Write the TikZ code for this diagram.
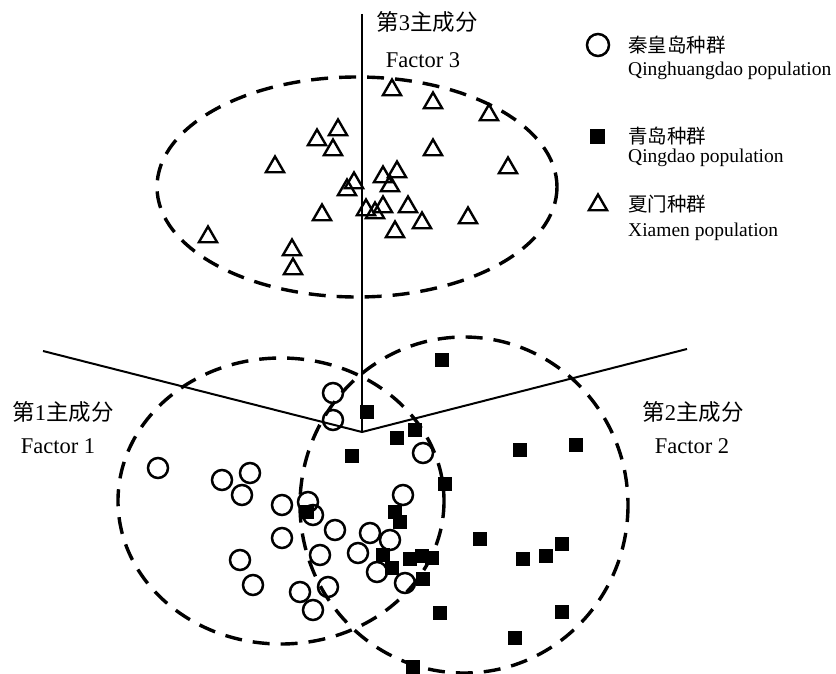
\documentclass[tikz,border=0pt]{standalone}
\usepackage{fontspec}
\setmainfont{Liberation Serif}
\newfontfamily\cjk{Noto Sans CJK SC}
\usepackage{tikz}
\usetikzlibrary{shapes.geometric}

\begin{document}
\begin{tikzpicture}[x=1pt, y=-1pt,
  axis/.style={line width=2pt},
  group/.style={line width=3.4pt, dash pattern=on 17pt off 11pt},
  qhd/.style={circle, draw, line width=2.5pt, minimum size=20pt, inner sep=0pt},
  qd/.style={rectangle, fill, minimum size=14pt, inner sep=0pt},
  xm/.style={regular polygon, regular polygon sides=3, draw, line width=2.4pt,
    minimum size=21pt, inner sep=0pt},
  axlabel/.style={font=\fontsize{22.5}{26}\selectfont, align=center},
  legtext/.style={font=\fontsize{19.5}{22}\selectfont, anchor=west, inner sep=0pt}]

\useasboundingbox (0,0) rectangle (836,674);

% axes
\coordinate (O) at (362,432);
\coordinate (f1) at (43,351);
\coordinate (f2) at (687,349);
\coordinate (f3) at (362,14);
\draw[axis] (f3) -- (O);
\draw[axis] (f1) -- (O) -- (f2);

\node[axlabel] (l3a) at (427,22) {{\cjk 第}3{\cjk 主成分}};
\node[axlabel] (l3b) at (423,60) {Factor 3};
\node[axlabel] (l1a) at (63,412) {{\cjk 第}1{\cjk 主成分}};
\node[axlabel] (l1b) at (58,446) {Factor 1};
\node[axlabel] (l2a) at (693,412) {{\cjk 第}2{\cjk 主成分}};
\node[axlabel] (l2b) at (692,446) {Factor 2};

% groups
\draw[group] (357,187) ellipse [x radius=200, y radius=110];
\draw[group] (281,501) ellipse [x radius=163, y radius=143];
\draw[group] (464,505) ellipse [x radius=164, y radius=168];

% Xiamen
\foreach \p [count=\i] in {(392,90),(433,103),(489,115),(338,130),(317,140),
  (333,150),(433,150),(275,167),(508,168),(383,177),(397,172),(390,186),
  (354,183),(347,190),(322,215),(366,210),(375,213),(383,207),(408,207),
  (422,223),(468,218),(395,232),(208,237),(292,250),(293,269)}
  \node[xm] (t\i) at \p {};

% Qinhuangdao
\foreach \p [count=\i] in {(333,393),(333,420),(423,453),(158,468),(222,480),
  (250,473),(242,495),(282,505),(403,495),(308,502),(313,515),(335,530),
  (370,533),(390,540),(282,538),(358,553),(320,555),(240,560),(377,572),
  (253,585),(328,587),(405,583),(300,592),(313,610)}
  \node[qhd] (c\i) at \p {};

% Qingdao
\foreach \p [count=\i] in {(442,360),(367,412),(415,430),(397,438),(352,456),
  (445,484),(520,450),(576,445),(307,512),(395,512),(400,522),(480,539),
  (383,555),(410,559),(422,556),(432,558),(392,568),(423,579),(523,559),
  (546,556),(562,544),(440,613),(562,612),(515,638),(413,667)}
  \node[qd] (s\i) at \p {};

% legend
\node[qhd, minimum size=22pt] (m1) at (598,45) {};
\node[legtext] (k1) at (628,45) {\cjk 秦皇岛种群};
\node[legtext] (e1) at (628,71) {Qinghuangdao population};
\node[qd, minimum size=15pt] (m2) at (597,137) {};
\node[legtext] (k2) at (628,136) {\cjk 青岛种群};
\node[legtext] (e2) at (628,158) {Qingdao population};
\node[xm] (m3) at (598,205) {};
\node[legtext] (k3) at (628,204) {\cjk 夏门种群};
\node[legtext] (e3) at (628,232) {Xiamen population};

\end{tikzpicture}
\end{document}
